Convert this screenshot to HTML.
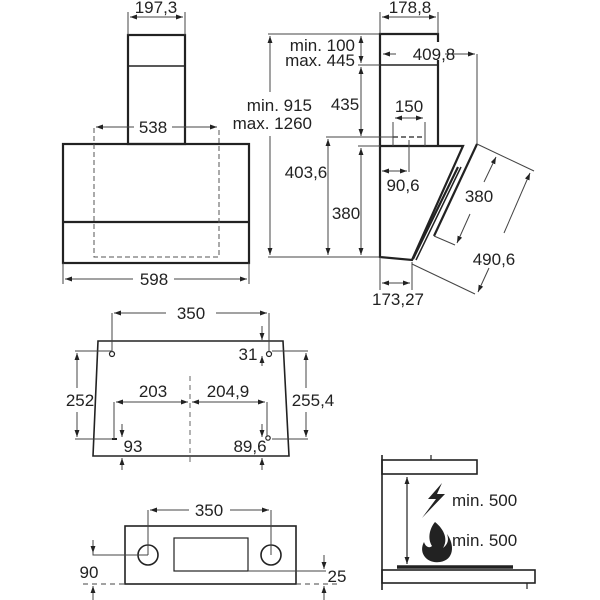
<!DOCTYPE html>
<html><head><meta charset="utf-8"><style>
html,body{margin:0;padding:0;background:#fff;}
svg{display:block;}
text{font-family:"Liberation Sans",sans-serif;font-size:17px;fill:#222;}
</style></head><body>
<svg width="600" height="600" viewBox="0 0 600 600" xmlns="http://www.w3.org/2000/svg">
<defs>
<marker id="a" viewBox="0 0 10 10" refX="10" refY="5" markerWidth="7" markerHeight="7" orient="auto-start-reverse" markerUnits="userSpaceOnUse"><path d="M0,1.5 L10,5 L0,8.5 z" fill="#222"/></marker>
</defs>
<g stroke="#222" fill="none">
<g stroke-width="2.2">
<rect x="128" y="35" width="57" height="109"/>
<rect x="63" y="144" width="186" height="119"/>
<line x1="63" y1="222" x2="249" y2="222"/>
</g>
<line x1="128" y1="66" x2="185" y2="66" stroke-width="1.6"/>
<path d="M94,128 V257 H219 V128" stroke-width="1" stroke-dasharray="5,3" stroke="#555"/>
<g stroke-width="1" stroke="#444">
<line x1="128" y1="35" x2="128" y2="12"/><line x1="185" y1="35" x2="185" y2="12"/>
<line x1="130" y1="17" x2="183" y2="17" marker-start="url(#a)" marker-end="url(#a)"/>
<line x1="96" y1="127" x2="134" y2="127" marker-start="url(#a)"/>
<line x1="172" y1="127" x2="217" y2="127" marker-end="url(#a)"/>
<line x1="63" y1="263" x2="63" y2="284"/><line x1="249" y1="263" x2="249" y2="284"/>
<line x1="65" y1="279" x2="133" y2="279" marker-start="url(#a)"/>
<line x1="174" y1="279" x2="247" y2="279" marker-end="url(#a)"/>
<line x1="268" y1="34" x2="380" y2="34"/>
<line x1="268" y1="257" x2="380" y2="257"/>
<line x1="270" y1="36" x2="270" y2="92" marker-start="url(#a)"/>
<line x1="270" y1="136" x2="270" y2="255" marker-end="url(#a)"/>
</g>
<g stroke-width="2.2">
<polyline points="380,146 380,34 438,34 438,42"/>
<line x1="438" y1="60" x2="438" y2="146"/>
<polygon points="380,146 463,146 412,260 380,257"/>
<line x1="458" y1="167" x2="413" y2="259"/>
<line x1="477" y1="144" x2="434" y2="236"/>
</g>
<line x1="461" y1="167" x2="416" y2="260" stroke-width="1.5"/>
<line x1="380" y1="65" x2="438" y2="65" stroke-width="1.6"/>
<line x1="393" y1="137" x2="425" y2="137" stroke-width="1.2" stroke-dasharray="5,3"/>
<g stroke-width="1" stroke="#444">
<line x1="380" y1="34" x2="380" y2="12"/><line x1="438" y1="34" x2="438" y2="12"/>
<line x1="382" y1="17" x2="436" y2="17" marker-start="url(#a)" marker-end="url(#a)"/>
<line x1="383" y1="54" x2="396" y2="54" marker-start="url(#a)"/>
<line x1="445" y1="54" x2="475" y2="54" marker-end="url(#a)"/>
<line x1="477" y1="54" x2="477" y2="144"/>
<line x1="361" y1="36" x2="361" y2="63" marker-start="url(#a)" marker-end="url(#a)"/>
<line x1="361" y1="67" x2="361" y2="136" marker-start="url(#a)" marker-end="url(#a)"/>
<line x1="361" y1="148" x2="361" y2="255" marker-start="url(#a)" marker-end="url(#a)"/>
<line x1="358" y1="65" x2="380" y2="65"/>
<line x1="358" y1="146" x2="380" y2="146"/>
<line x1="326" y1="137" x2="393" y2="137"/>
<line x1="328" y1="139" x2="328" y2="255" marker-start="url(#a)" marker-end="url(#a)"/>
<line x1="393" y1="122" x2="393" y2="146"/><line x1="425" y1="122" x2="425" y2="146"/>
<line x1="395" y1="118" x2="423" y2="118" marker-start="url(#a)" marker-end="url(#a)"/>
<line x1="409" y1="140" x2="409" y2="172"/>
<line x1="382" y1="171" x2="407" y2="171" marker-start="url(#a)" marker-end="url(#a)"/>
<line x1="380" y1="257" x2="380" y2="290"/><line x1="412" y1="262" x2="412" y2="290"/>
<line x1="382" y1="283" x2="410" y2="283" marker-start="url(#a)" marker-end="url(#a)"/>
<line x1="477" y1="144" x2="534" y2="171"/>
<line x1="412" y1="264" x2="475" y2="294"/>
<line x1="434" y1="236" x2="455" y2="245"/>
<line x1="496" y1="157" x2="484" y2="182" marker-start="url(#a)"/>
<line x1="470" y1="214" x2="457" y2="243" marker-end="url(#a)"/>
<line x1="530" y1="173" x2="504" y2="233" marker-start="url(#a)"/>
<line x1="489" y1="268" x2="478" y2="292" marker-end="url(#a)"/>
</g>
<polygon points="98,341 283,341 289,456 93,456" stroke-width="1.6"/>
<circle cx="112" cy="354" r="2.5" stroke-width="1.2"/>
<circle cx="269" cy="354" r="2.5" stroke-width="1.2"/>
<circle cx="268" cy="438" r="2.2" stroke-width="1.2"/>
<line x1="112" y1="439" x2="117" y2="439" stroke-width="2"/>
<line x1="190" y1="376" x2="190" y2="464" stroke-width="1" stroke-dasharray="5,4" stroke="#666"/>
<g stroke-width="1" stroke="#444">
<line x1="112" y1="313" x2="112" y2="352"/><line x1="269" y1="313" x2="269" y2="352"/>
<line x1="114" y1="313" x2="166" y2="313" marker-start="url(#a)"/>
<line x1="216" y1="313" x2="267" y2="313" marker-end="url(#a)"/>
<line x1="262" y1="326" x2="262" y2="340" marker-end="url(#a)"/>
<line x1="262" y1="366" x2="262" y2="356" marker-end="url(#a)"/>
<line x1="75" y1="351" x2="112" y2="351"/>
<line x1="75" y1="439" x2="112" y2="439"/>
<line x1="77" y1="353" x2="77" y2="388" marker-start="url(#a)"/>
<line x1="77" y1="412" x2="77" y2="437" marker-end="url(#a)"/>
<line x1="272" y1="351" x2="308" y2="351"/>
<line x1="272" y1="439" x2="308" y2="439"/>
<line x1="306" y1="353" x2="306" y2="388" marker-start="url(#a)"/>
<line x1="306" y1="412" x2="306" y2="437" marker-end="url(#a)"/>
<line x1="114" y1="402" x2="114" y2="439"/>
<line x1="267" y1="402" x2="267" y2="437"/>
<line x1="116" y1="402" x2="188" y2="402" marker-start="url(#a)" marker-end="url(#a)"/>
<line x1="192" y1="402" x2="265" y2="402" marker-start="url(#a)" marker-end="url(#a)"/>
<line x1="122" y1="424" x2="122" y2="437" marker-end="url(#a)"/>
<line x1="122" y1="470" x2="122" y2="458" marker-end="url(#a)"/>
<line x1="262" y1="424" x2="262" y2="437" marker-end="url(#a)"/>
<line x1="262" y1="470" x2="262" y2="458" marker-end="url(#a)"/>
</g>
<rect x="125" y="526" width="171" height="58" stroke-width="1.6"/>
<rect x="174" y="538" width="74" height="33" stroke-width="1.2"/>
<circle cx="148" cy="555" r="10" stroke-width="1.6"/>
<circle cx="271" cy="555" r="10" stroke-width="1.6"/>
<g stroke-width="1" stroke="#444">
<line x1="148" y1="510" x2="148" y2="555"/><line x1="271" y1="510" x2="271" y2="555"/>
<line x1="150" y1="510" x2="189" y2="510" marker-start="url(#a)"/>
<line x1="230" y1="510" x2="269" y2="510" marker-end="url(#a)"/>
<polyline points="148,555 93,555 93,540"/>
<line x1="93" y1="540" x2="93" y2="553" marker-end="url(#a)"/>
<line x1="93" y1="600" x2="93" y2="586" marker-end="url(#a)"/>
<line x1="83" y1="584" x2="125" y2="584" stroke-dasharray="5,4"/>
<line x1="296" y1="584" x2="338" y2="584" stroke-dasharray="5,4"/>
<line x1="248" y1="571" x2="326" y2="571"/>
<line x1="324" y1="555" x2="324" y2="569" marker-end="url(#a)"/>
<line x1="324" y1="600" x2="324" y2="586" marker-end="url(#a)"/>
</g>
<rect x="382" y="460" width="95" height="14" stroke-width="1.6"/>
<rect x="382" y="570" width="153" height="13" stroke-width="1.6"/>
<line x1="382" y1="455" x2="382" y2="590" stroke-width="1.6"/>
<line x1="431" y1="455" x2="431" y2="460" stroke-width="1.2"/>
<line x1="527" y1="583" x2="527" y2="589" stroke-width="1.2"/>
<line x1="397" y1="567" x2="513" y2="567" stroke-width="3.5"/>
<line x1="407" y1="477" x2="407" y2="564" stroke-width="1.2" marker-start="url(#a)" marker-end="url(#a)"/>
</g>
<path d="M442,483 L428,499 L436,499 L422,518 L445,494 L437,494 Z" fill="#222"/>
<path d="M435,522 C445,530 448,540 443,548 C448,544 449,540 447,534 C455,545 454,560 440,562 C427,564 418,553 424,542 C426,548 430,548 432,546 C427,538 430,528 435,522 Z" fill="#222"/>
<g>
<text x="156" y="13" text-anchor="middle">197,3</text>
<text x="153" y="133" text-anchor="middle">538</text>
<text x="154" y="285" text-anchor="middle">598</text>
<text x="312" y="111" text-anchor="end">min. 915</text>
<text x="312" y="129" text-anchor="end">max. 1260</text>
<text x="410" y="13" text-anchor="middle">178,8</text>
<text x="355" y="51" text-anchor="end">min. 100</text>
<text x="355" y="66" text-anchor="end">max. 445</text>
<text x="434" y="60" text-anchor="middle">409,8</text>
<text x="345" y="110" text-anchor="middle">435</text>
<text x="409" y="112" text-anchor="middle">150</text>
<text x="306" y="178" text-anchor="middle">403,6</text>
<text x="403" y="191" text-anchor="middle">90,6</text>
<text x="346" y="219" text-anchor="middle">380</text>
<text x="479" y="202" text-anchor="middle">380</text>
<text x="494" y="265" text-anchor="middle">490,6</text>
<text x="398" y="305" text-anchor="middle">173,27</text>
<text x="191" y="319" text-anchor="middle">350</text>
<text x="248" y="360" text-anchor="middle">31</text>
<text x="80" y="406" text-anchor="middle">252</text>
<text x="153" y="397" text-anchor="middle">203</text>
<text x="228" y="397" text-anchor="middle">204,9</text>
<text x="313" y="406" text-anchor="middle">255,4</text>
<text x="133" y="452" text-anchor="middle">93</text>
<text x="250" y="452" text-anchor="middle">89,6</text>
<text x="209" y="516" text-anchor="middle">350</text>
<text x="89" y="578" text-anchor="middle">90</text>
<text x="337" y="582" text-anchor="middle">25</text>
<text x="452" y="506">min. 500</text>
<text x="452" y="546">min. 500</text>
</g>
</svg>
</body></html>
